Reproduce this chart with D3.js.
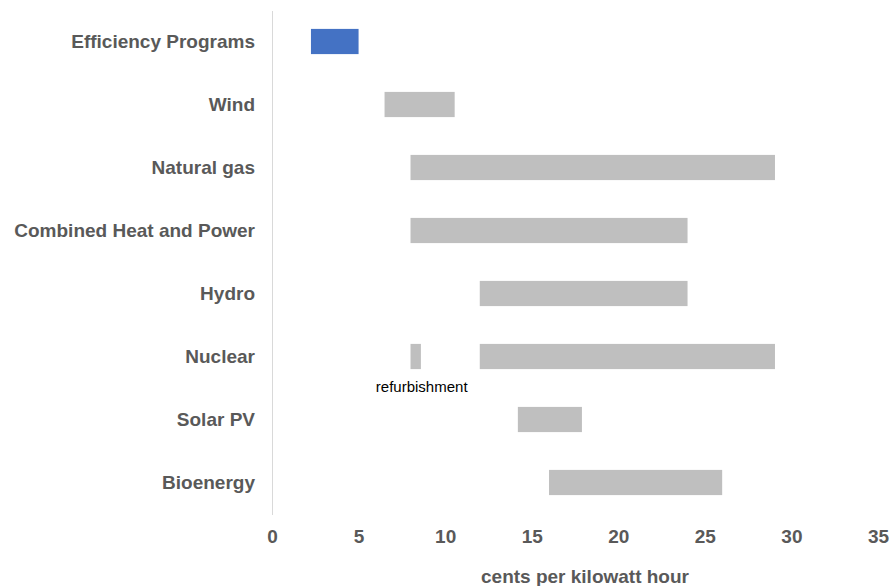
<!DOCTYPE html>
<html><head><meta charset="utf-8">
<script src="https://cdn.jsdelivr.net/npm/d3@7"></script>
<style>body{margin:0;background:#fff;}text{font-family:"Liberation Sans",Arial,sans-serif;}</style>
</head><body>
<svg id="c" width="893" height="586"></svg>
<script>
const categories = ["Efficiency Programs","Wind","Natural gas","Combined Heat and Power","Hydro","Nuclear","Solar PV","Bioenergy"];
const lows  = [2.25, 6.5, 8, 8, 12, 12, 14.2, 16];
const highs = [5.0, 10.55, 29.05, 24, 24, 29.05, 17.9, 26];
const extraCategory = ["Nuclear"];
const extraLow = [8];
const extraHigh = [8.6];
const extraLabel = ["refurbishment"];
const ticks = [0,5,10,15,20,25,30,35];
const xTitle = "cents per kilowatt hour";

const svg = d3.select("#c");
const x = d3.scaleLinear().domain([0,35]).range([272,878]);
const y = d3.scaleBand().domain(categories).range([10,514]).paddingInner(0.6).paddingOuter(0.3);

// axis line
svg.append("line").attr("x1",x(0)+0.5).attr("x2",x(0)+0.5).attr("y1",11).attr("y2",515)
  .attr("stroke","#d9d9d9").attr("stroke-width",1);

svg.selectAll("rect.main").data(categories).enter().append("rect")
  .attr("x",(d,i)=>x(lows[i])).attr("width",(d,i)=>x(highs[i])-x(lows[i]))
  .attr("y",d=>y(d)).attr("height",y.bandwidth())
  .attr("fill",(d,i)=>i===0?"#4472c4":"#bfbfbf");

svg.selectAll("rect.extra").data(extraCategory).enter().append("rect")
  .attr("x",(d,i)=>x(extraLow[i])).attr("width",(d,i)=>x(extraHigh[i])-x(extraLow[i]))
  .attr("y",d=>y(d)).attr("height",y.bandwidth()).attr("fill","#bfbfbf");

svg.selectAll("text.extra").data(extraCategory).enter().append("text")
  .attr("x",(d,i)=>x((extraLow[i]+extraHigh[i])/2)+6).attr("y",d=>y(d)+y.bandwidth()+23)
  .attr("text-anchor","middle").attr("font-size",15).attr("fill","#000").text((d,i)=>extraLabel[i]);

// category labels
const yAxis = svg.append("g").attr("transform","translate(255,0)")
  .call(d3.axisLeft(y).tickSize(0).tickPadding(0));
yAxis.select(".domain").remove();
yAxis.selectAll("text").attr("font-size",19).attr("font-weight","bold").attr("fill","#595959")
  .attr("font-family","Liberation Sans, Arial, sans-serif");

// x ticks
const xAxis = svg.append("g").attr("transform","translate(0,529)")
  .call(d3.axisBottom(x).tickValues(ticks).tickSize(0).tickPadding(0));
xAxis.select(".domain").remove();
xAxis.selectAll("text").attr("font-size",19).attr("font-weight","bold").attr("fill","#595959")
  .attr("font-family","Liberation Sans, Arial, sans-serif");

svg.append("text").attr("x",585).attr("y",583).attr("text-anchor","middle")
  .attr("font-size",19).attr("font-weight","bold").attr("fill","#595959").text(xTitle);
</script>
</body></html>
